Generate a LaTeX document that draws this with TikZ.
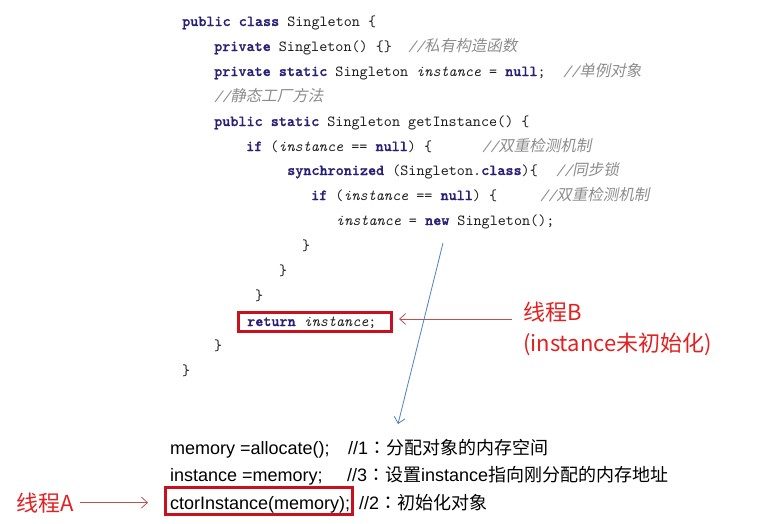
\documentclass[tikz,border=0pt]{standalone}
\usepackage{fontspec}
\usepackage{tikz}
\usetikzlibrary{arrows.meta,positioning}
\newfontfamily\codefont{lmmono10-regular.otf}[ItalicFont=lmmono10-italic.otf,BoldFont=lmmonolt10-bold.otf,BoldFeatures={FakeBold=1}]
\newfontfamily\cjk{Noto Sans CJK SC}
\newfontfamily\cjkcolon{Noto Sans CJK TC}
\newfontfamily\cjkit{Noto Sans CJK SC}[FakeSlant=0.2]
\newfontfamily\sans{Liberation Sans}
\definecolor{kwblue}{RGB}{40,32,118}
\definecolor{codeblack}{RGB}{30,30,30}
\definecolor{cmtgray}{RGB}{140,140,140}
\definecolor{boxred}{RGB}{200,16,30}
\definecolor{threadred}{RGB}{226,32,32}
\definecolor{hintred}{RGB}{192,80,77}
\definecolor{flowblue}{RGB}{79,129,189}
\newcommand\kw[1]{{\bfseries\color{kwblue}#1}}
\newcommand\iv[1]{{\itshape #1}}
\newcommand\cm[1]{{\itshape//}{\cjkit\fontsize{15.5}{18}\selectfont #1}}
\newcommand\zh[1]{{\cjk #1}}
\newcommand\colonzh{{\cjkcolon ：}}
\tikzset{
  codeline/.style={anchor=base west, inner sep=0pt, text=codeblack, font=\codefont\fontsize{15.4}{18}\selectfont},
  comment/.style={codeline, text=cmtgray},
  memline/.style={anchor=base west, inner sep=0pt, text=black, font=\sans\fontsize{18}{21}\selectfont},
  thread/.style={anchor=base west, inner sep=0pt, text=threadred, font=\cjk\fontsize{22}{26}\selectfont},
  markbox/.style={draw=boxred, line width=2.8pt, inner sep=0pt},
  hint/.style={draw=hintred, line width=0.8pt, -{Straight Barb[length=6pt,width=11pt]}},
  flow/.style={draw=flowblue, line width=0.8pt, -{Straight Barb[length=6pt,width=11pt]}},
}
\begin{document}
\begin{tikzpicture}[x=1pt,y=-1pt]
\useasboundingbox (0,0) rectangle (770,523);
% class Singleton
\node[codeline] (l1) at (182,26) {\kw{public} \kw{class} Singleton \{};
\node[codeline] (l2) at (214,51) {\kw{private} Singleton() \{\}};
\node[comment] (c2) at (408,51) {\cm{私有构造函数}};
\node[codeline] (l3) at (214,76) {\kw{private} \kw{static} Singleton \iv{instance} = \kw{null};};
\node[comment] (c3) at (563,76) {\cm{单例对象}};
\node[comment] (l4) at (214,101) {\cm{静态工厂方法}};
\node[codeline] (l5) at (214,126) {\kw{public} \kw{static} Singleton getInstance() \{};
\node[codeline] (l6) at (246,151) {\kw{if} (\iv{instance} == \kw{null}) \{};
\node[comment] (c6) at (482,151) {\cm{双重检测机制}};
\node[codeline] (l7) at (287,175) {\kw{synchronized} (Singleton.\kw{class})\{};
\node[comment] (c7) at (556,175) {\cm{同步锁}};
\node[codeline] (l8) at (311,200) {\kw{if} (\iv{instance} == \kw{null}) \{};
\node[comment] (c8) at (540,200) {\cm{双重检测机制}};
\node[codeline] (l9) at (336,225) {\iv{instance} = \kw{new} Singleton();};
\node[codeline] (l10) at (302,250) {\}};
\node[codeline] (l11) at (279,275) {\}};
\node[codeline] (l12) at (255,300) {\}};
\node[codeline] (l13) at (247,326) {\kw{return} \iv{instance};};
\node[codeline] (l14) at (214,350) {\}};
\node[codeline] (l15) at (182,375) {\}};
\node[markbox, minimum width=153pt, minimum height=19.5pt] (retbox) at (314.7,321.9) {};
% thread B
\node[thread] (thrB) at (523,320) {线程B};
\node[thread] (thrBnote) at (523,351) {(instance未初始化)};
\coordinate (bfrom) at (512,319);
\draw[hint, shorten >=6.5pt] (bfrom) -- (bfrom -| retbox.east);
% reordered steps
\node[memline] (m1) at (170,454) {memory =allocate();};
\node[memline] (m1c) at (348,454) {//1\colonzh\zh{分配对象的内存空间}};
\node[memline] (m2) at (170,481) {instance =memory;};
\node[memline] (m2c) at (347,481) {//3\colonzh\zh{设置}instance\zh{指向刚分配的内存地址}};
\node[memline] (m3) at (170,509) {ctorInstance(memory);};
\node[memline] (m3c) at (359,509) {//2\colonzh\zh{初始化对象}};
\node[markbox, minimum width=187.2pt, minimum height=27.5pt] (ctorbox) at (259,500.9) {};
\coordinate (newend) at (443,243);
\coordinate (memtop) at (398,424);
\draw[flow] (newend) -- (memtop);
% thread A
\node[thread] (thrA) at (16,511) {线程A};
\draw[hint, shorten <=6pt, shorten >=16pt] (thrA.east) -- (thrA.east -| ctorbox.west);
\end{tikzpicture}
\end{document}
